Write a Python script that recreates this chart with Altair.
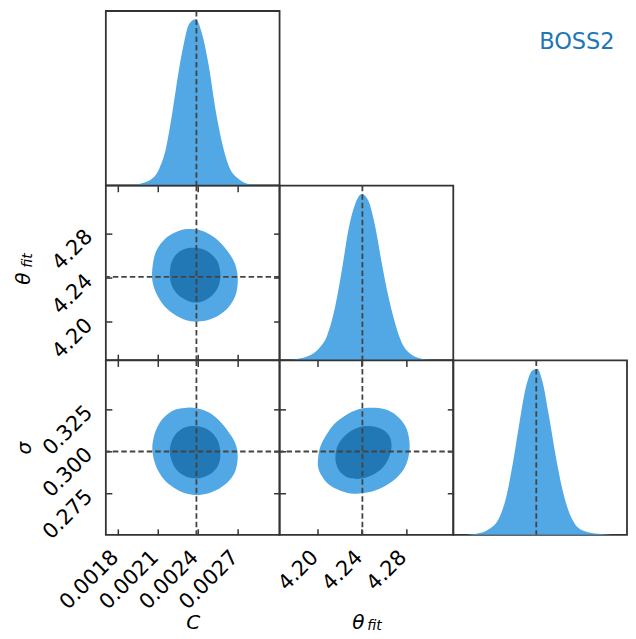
import altair as alt
import pandas as pd

# ---------------- data ----------------
C_DOMAIN = [0.001708, 0.003016]
T_DOMAIN = [4.1655, 4.3228]
S_DOMAIN = [0.2502, 0.3540]
D_DOMAIN = [0, 1.05]

C_TICKS = [0.0018, 0.0021, 0.0024, 0.0027]
T_TICKS = [4.20, 4.24, 4.28]
S_TICKS = [0.275, 0.300, 0.325]

C_TRUE = 0.00239
T_TRUE = 4.2405
S_TRUE = 0.2998

# 1-D marginals (normalised density)
C_X = [0.001708, 0.001850, 0.001912, 0.002036, 0.002110, 0.002160, 0.002209, 0.002259, 0.002297, 0.002334,
       0.002384, 0.002433, 0.002483, 0.002533, 0.002582, 0.002632, 0.002706, 0.002805, 0.002900, 0.003016]
C_D = [0, 0, 0.003, 0.03, 0.10, 0.22, 0.44, 0.70, 0.86, 0.97, 1.00, 0.91, 0.72, 0.46, 0.26, 0.12, 0.04, 0.005, 0, 0]

T_X = [4.1655, 4.1750, 4.1803, 4.1922, 4.2012, 4.2087, 4.2161, 4.2221, 4.2280, 4.2340, 4.2400,
       4.2459, 4.2519, 4.2579, 4.2638, 4.2698, 4.2758, 4.2848, 4.2967, 4.3100, 4.3228]
T_D = [0, 0.001, 0.006, 0.026, 0.07, 0.15, 0.33, 0.55, 0.79, 0.94, 1.00, 0.96, 0.81, 0.59, 0.39, 0.23,
       0.11, 0.034, 0.006, 0.001, 0]

S_X = [0.2502, 0.2580, 0.2641, 0.2719, 0.2778, 0.2818, 0.2857, 0.2896, 0.2935, 0.2975, 0.3004,
       0.3034, 0.3072, 0.3112, 0.3151, 0.3190, 0.3229, 0.3288, 0.3366, 0.3450, 0.3540]
S_D = [0, 0.001, 0.006, 0.036, 0.106, 0.226, 0.426, 0.666, 0.886, 0.99, 1.00, 0.926, 0.726, 0.486, 0.286,
       0.146, 0.066, 0.022, 0.006, 0.001, 0]

# 2-D contours (68% inner, 95% outer), points going round each contour
CT_OUT_C = [0.002056, 0.002073, 0.002110, 0.002172, 0.002247, 0.002321, 0.002408, 0.002495, 0.002569, 0.002636, 0.002681,
            0.002701, 0.002691, 0.002649, 0.002582, 0.002495, 0.002396, 0.002309, 0.002222, 0.002148, 0.002091, 0.002063]
CT_OUT_T = [4.2445, 4.2590, 4.2687, 4.2768, 4.2816, 4.2837, 4.2831, 4.2786, 4.2717, 4.2620, 4.2521,
            4.2400, 4.2264, 4.2159, 4.2077, 4.2023, 4.2002, 4.2017, 4.2069, 4.2144, 4.2249, 4.2346]
CT_IN_C = [0.002190, 0.002202, 0.002239, 0.002297, 0.002371, 0.002445, 0.002507, 0.002552, 0.002569,
           0.002567, 0.002545, 0.002495, 0.002421, 0.002346, 0.002279, 0.002227, 0.002197]
CT_IN_T = [4.2439, 4.2536, 4.2611, 4.2656, 4.2668, 4.2653, 4.2605, 4.2536, 4.2451,
           4.2370, 4.2294, 4.2225, 4.2180, 4.2180, 4.2219, 4.2279, 4.2355]

CS_OUT_C = [0.002058, 0.002071, 0.002106, 0.002165, 0.002239, 0.002321, 0.002408, 0.002495, 0.002577, 0.002644, 0.002686,
            0.002701, 0.002686, 0.002639, 0.002557, 0.002458, 0.002371, 0.002284, 0.002197, 0.002128, 0.002081]
CS_OUT_S = [0.3010, 0.3090, 0.3159, 0.3215, 0.3249, 0.3259, 0.3253, 0.3225, 0.3169, 0.3100, 0.3040,
            0.2970, 0.2890, 0.2827, 0.2775, 0.2745, 0.2739, 0.2755, 0.2795, 0.2850, 0.2920]
CS_IN_C = [0.002190, 0.002202, 0.002239, 0.002297, 0.002364, 0.002438, 0.002507, 0.002552,
           0.002569, 0.002565, 0.002532, 0.002470, 0.002396, 0.002321, 0.002259, 0.002215]
CS_IN_S = [0.2990, 0.3054, 0.3106, 0.3140, 0.3150, 0.3142, 0.3110, 0.3060,
           0.3000, 0.2940, 0.2890, 0.2854, 0.2838, 0.2846, 0.2874, 0.2920]

TS_OUT_T = [4.2003, 4.2021, 4.2072, 4.2146, 4.2251, 4.2370, 4.2489, 4.2609, 4.2713, 4.2794, 4.2829,
            4.2829, 4.2794, 4.2713, 4.2594, 4.2459, 4.2325, 4.2206, 4.2101, 4.2036, 4.2006]
TS_OUT_S = [0.2950, 0.3020, 0.3090, 0.3159, 0.3213, 0.3249, 0.3259, 0.3249, 0.3213, 0.3150, 0.3070,
            0.2990, 0.2910, 0.2840, 0.2787, 0.2755, 0.2747, 0.2765, 0.2801, 0.2854, 0.2900]
TS_IN_T = [4.2161, 4.2179, 4.2236, 4.2316, 4.2415, 4.2519, 4.2609, 4.2659,
           4.2668, 4.2644, 4.2585, 4.2489, 4.2385, 4.2280, 4.2206, 4.2170]
TS_IN_S = [0.2970, 0.3030, 0.3084, 0.3126, 0.3148, 0.3146, 0.3120, 0.3074,
           0.3020, 0.2960, 0.2900, 0.2856, 0.2836, 0.2842, 0.2874, 0.2920]

LABEL = "BOSS2"

# ---------------- style ----------------
FONT = "DejaVu Sans"
LIGHT = "#52a8e4"
DARK = "#2277b5"
INK = "#333333"
DASH = "#444444"
FS = 20      # axis titles
LFS = 21     # tick labels
W, H = 174, 174.7


def axis(orient, values, fmt=None, labels=False, title=None, **kw):
    d = dict(orient=orient, values=values, labels=labels, title=title, ticks=True, tickSize=6,
             tickWidth=1.5, tickColor=INK, offset=-6, domain=False, grid=False,
             labelFont=FONT, labelFontSize=LFS, labelColor="black", labelAngle=315,
             labelAlign="right", labelBaseline="middle", labelOverlap=False, labelFlush=False,
             titleFont=FONT, titleFontSize=FS, titleFontWeight="normal", titleFontStyle="italic",
             titleColor="black")
    if fmt is not None:
        d["format"] = fmt
    d.update(kw)
    return alt.Axis(**d)


def sc(dom):
    return alt.Scale(domain=dom, nice=False, zero=False)


def contour_df(xs, ys):
    return pd.DataFrame({"x": xs, "y": ys, "i": list(range(len(xs)))})


def vrule(val, dom):
    return alt.Chart(pd.DataFrame({"v": [val]})).mark_rule(
        strokeDash=[5.5, 3], color=DASH, strokeWidth=1.8
    ).encode(x=alt.X("v:Q", scale=sc(dom), axis=None))


def hrule(val, dom):
    return alt.Chart(pd.DataFrame({"v": [val]})).mark_rule(
        strokeDash=[5.5, 3], color=DASH, strokeWidth=1.8
    ).encode(y=alt.Y("v:Q", scale=sc(dom), axis=None))


def marginal(xs, ds, dom, ticks, truth, fmt, labels=False, title=None, extra=()):
    df = pd.DataFrame({"x": xs, "d": ds})
    xa = axis("bottom", ticks, fmt, labels=labels, title=title, labelPadding=19, labelOffset=-3,
              titleY=94, titleBaseline="middle")
    area = alt.Chart(df).mark_area(interpolate="monotone", color=LIGHT).encode(
        x=alt.X("x:Q", scale=sc(dom), axis=xa),
        y=alt.Y("d:Q", scale=sc(D_DOMAIN), axis=None),
    )
    return alt.layer(area, vrule(truth, dom), *extra).properties(width=W, height=H)


def panel(out_xy, in_xy, xdom, ydom, xticks, yticks, xtruth, ytruth, xfmt, yfmt,
          xlabels=False, ylabels=False, xtitle=None, ytitle=None, extra=()):
    xb = axis("bottom", xticks, xfmt, labels=xlabels, title=xtitle, labelPadding=19, labelOffset=-3,
              titleY=94, titleBaseline="middle")
    yl = axis("left", yticks, yfmt, labels=ylabels, title=ytitle, labelPadding=17,
              titleX=-87, titleBaseline="middle", titleAngle=270)
    xt = axis("top", xticks, xfmt)
    yr = axis("right", yticks, yfmt)
    outer = alt.Chart(contour_df(*out_xy)).mark_line(
        filled=True, interpolate="cardinal-closed", color=LIGHT, strokeOpacity=0
    ).encode(x=alt.X("x:Q", scale=sc(xdom), axis=xb), y=alt.Y("y:Q", scale=sc(ydom), axis=yl), order="i:Q")
    inner = alt.Chart(contour_df(*in_xy)).mark_line(
        filled=True, interpolate="cardinal-closed", color=DARK, strokeOpacity=0
    ).encode(x=alt.X("x:Q", scale=sc(xdom), axis=xt), y=alt.Y("y:Q", scale=sc(ydom), axis=yr), order="i:Q")
    return alt.layer(outer, inner, vrule(xtruth, xdom), hrule(ytruth, ydom), *extra).properties(width=W, height=H)


def label_text(txt, x, y, size, angle=0):
    kw = dict(font=FONT, fontSize=size, fontStyle="italic", align="center", baseline="middle", color="black")
    if angle:
        kw["angle"] = angle
    return alt.Chart(pd.DataFrame({"t": [txt]})).mark_text(**kw).encode(
        x=alt.value(x), y=alt.value(y), text="t:N")


def blank(text=""):
    return alt.Chart(pd.DataFrame({"t": [text]})).mark_text(
        font=FONT, fontSize=22.5, color="#1f77b4", align="left", baseline="alphabetic"
    ).encode(x=alt.value(86), y=alt.value(38), text="t:N").properties(
        width=W, height=H, view=alt.ViewBackground(strokeOpacity=0))


# theta_fit titles built from a main symbol and a subscript
theta_y = [label_text("θ", -81.5, 93, FS, 270), label_text("fit", -77.5, 75, 14, 270)]
theta_x = [label_text("θ", 79, 262.5, FS), label_text("fit", 95, 266, 14)]

m_c = marginal(C_X, C_D, C_DOMAIN, C_TICKS, C_TRUE, ".4f")
m_t = marginal(T_X, T_D, T_DOMAIN, T_TICKS, T_TRUE, ".2f")
m_s = marginal(S_X, S_D, S_DOMAIN, S_TICKS, S_TRUE, ".3f", labels=True, title="σ")

p_ct = panel((CT_OUT_C, CT_OUT_T), (CT_IN_C, CT_IN_T), C_DOMAIN, T_DOMAIN, C_TICKS, T_TICKS,
             C_TRUE, T_TRUE, ".4f", ".2f", ylabels=True, extra=theta_y)
p_cs = panel((CS_OUT_C, CS_OUT_S), (CS_IN_C, CS_IN_S), C_DOMAIN, S_DOMAIN, C_TICKS, S_TICKS,
             C_TRUE, S_TRUE, ".4f", ".3f", xlabels=True, ylabels=True, xtitle="C", ytitle="σ")
p_ts = panel((TS_OUT_T, TS_OUT_S), (TS_IN_T, TS_IN_S), T_DOMAIN, S_DOMAIN, T_TICKS, S_TICKS,
             T_TRUE, S_TRUE, ".2f", ".3f", xlabels=True, extra=theta_x)

chart = alt.concat(
    m_c, blank(), blank(LABEL),
    p_ct, m_t, blank(),
    p_cs, p_ts, m_s,
    columns=3, spacing=0, bounds="flush",
).properties(
    padding={"left": 5, "top": 0.5, "right": 0, "bottom": -1.5},
    background="white",
).configure_view(stroke=INK, strokeWidth=1.8)

chart.save("out.html", embed_options={"renderer": "svg", "actions": False})
